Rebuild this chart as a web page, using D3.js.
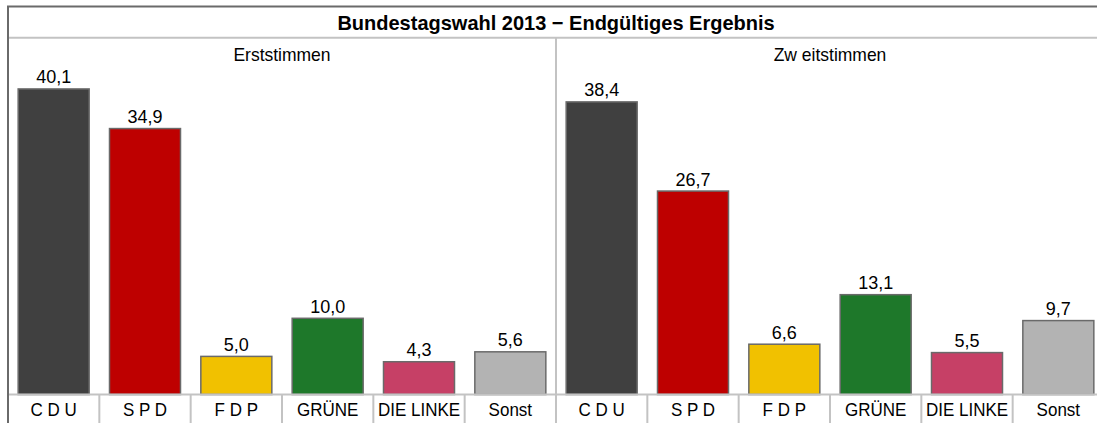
<!DOCTYPE html>
<html><head><meta charset="utf-8">
<script src="https://cdn.jsdelivr.net/npm/d3@7"></script>
<style>
html,body{margin:0;padding:0;background:#fff;overflow:hidden}
text{font-family:"Liberation Sans",Arial,sans-serif;fill:#000}
</style></head>
<body>
<svg id="c" width="1097" height="423"></svg>
<script>
const title = "Bundestagswahl 2013 \u2212 Endgültiges Ergebnis";
const panels = ["Erststimmen", "Zw eitstimmen"];
const categories = ["C D U", "S P D", "F D P", "GRÜNE", "DIE LINKE", "Sonst"];
const colors = ["#404040", "#be0000", "#f1c100", "#1e782a", "#c64066", "#b3b3b3"];
const erststimmen = [40.1, 34.9, 5.0, 10.0, 4.3, 5.6];
const zweitstimmen = [38.4, 26.7, 6.6, 13.1, 5.5, 9.7];
const seriesValues = [erststimmen, zweitstimmen];
const fmt = v => v.toFixed(1).replace(".", ",");

const svg = d3.select("#c");
const L = 8, W = 548, frameTop = 6.5, base = 394.5;
const light = "#c3c3c3", dark = "#6a6a6a";

const y = d3.scaleLinear().domain([0, 45]).range([base, 51.6]);

// title
svg.append("text").attr("transform", `translate(${L + W},30) scale(1,1.03)`).attr("text-anchor", "middle")
  .style("font-size", "20px").style("font-weight", "bold").text(title);

panels.forEach((p, pi) => {
  const x0 = L + pi * W;
  const x = d3.scaleBand().domain(categories).range([x0, x0 + W]).paddingInner(0.2226).paddingOuter(0.1113);
  const vals = seriesValues[pi];
  const g = svg.append("g");
  g.append("text").attr("transform", `translate(${x0 + W / 2},60.5) scale(1,1.1)`)
    .attr("text-anchor", "middle").style("font-size", "17.5px").text(p);
  g.selectAll("rect.bar").data(categories).join("rect").attr("class", "bar")
    .attr("x", d => x(d)).attr("width", x.bandwidth())
    .attr("y", (d, i) => y(vals[i])).attr("height", (d, i) => y(0) - y(vals[i]))
    .attr("fill", (d, i) => colors[i]).attr("stroke", dark).attr("stroke-width", 1.5);
  g.selectAll("text.val").data(categories).join("text").attr("class", "val")
    .attr("transform", (d, i) => `translate(${x(d) + x.bandwidth() / 2},${y(vals[i]) - 5.5}) scale(1,1.05)`)
    .attr("text-anchor", "middle").style("font-size", "18px").text((d, i) => fmt(vals[i]));
  categories.forEach((c, i) => {
    if (i > 0) g.append("line").attr("x1", x0 + i * x.step()).attr("x2", x0 + i * x.step())
      .attr("y1", base).attr("y2", 430).attr("stroke", light).attr("stroke-width", 2);
  });
  g.selectAll("text.cat").data(categories).join("text").attr("class", "cat")
    .attr("transform", d => `translate(${x(d) + x.bandwidth() / 2},415.5) scale(1,1.1)`)
    .attr("text-anchor", "middle").style("font-size", "17px").text(d => d);
});

svg.append("line").attr("x1", L).attr("x2", L + 2 * W).attr("y1", 37.7).attr("y2", 37.7)
  .attr("stroke", light).attr("stroke-width", 2);
svg.append("line").attr("x1", L + W).attr("x2", L + W).attr("y1", 37.7).attr("y2", 430)
  .attr("stroke", light).attr("stroke-width", 2);
svg.append("line").attr("x1", L).attr("x2", L + 2 * W).attr("y1", base).attr("y2", base)
  .attr("stroke", light).attr("stroke-width", 2);
svg.append("rect").attr("x", L).attr("y", frameTop).attr("width", 2 * W).attr("height", 430)
  .attr("fill", "none").attr("stroke", dark).attr("stroke-width", 2);
</script>
</body></html>
